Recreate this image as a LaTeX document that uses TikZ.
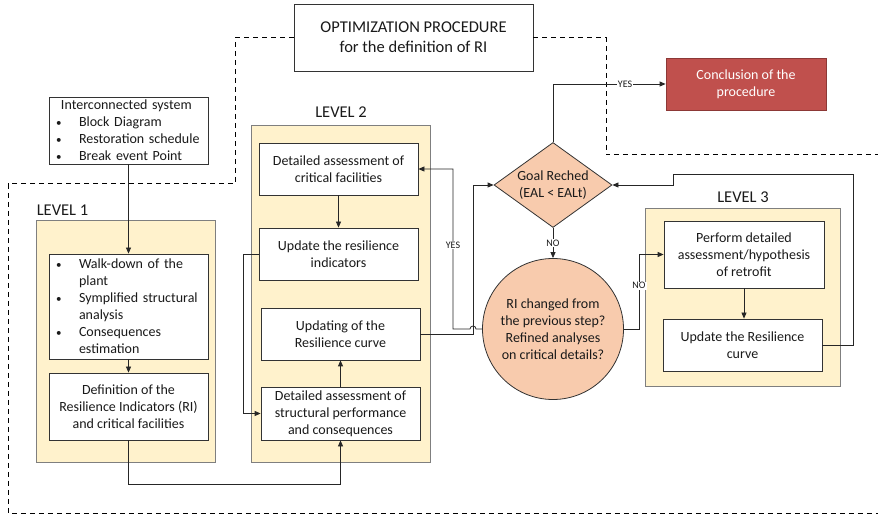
\documentclass[tikz,border=0pt]{standalone}
\usepackage{fontspec}
\setmainfont{Carlito}
\usetikzlibrary{arrows.meta,shapes.geometric,calc}
\definecolor{lvlfill}{HTML}{FFF2CC}
\definecolor{lvlline}{HTML}{7F7F7F}
\definecolor{peach}{HTML}{F8CBAD}
\definecolor{redbox}{HTML}{C0504D}
\definecolor{redline}{HTML}{8C3836}
\definecolor{txt}{HTML}{1A1A1A}
\newcommand\blt{\hspace*{4pt}\makebox[23pt][l]{\fontsize{11}{11}\selectfont\textbullet}}
\newcommand\bind{\hspace*{27pt}}
\begin{document}
\begin{tikzpicture}[x=1pt,y=-1pt,
  every node/.style={font=\fontsize{14}{17}\selectfont, text=txt},
  lvl/.style={draw=lvlline, fill=lvlfill, line width=1pt, inner sep=0},
  box/.style={draw=black!80, fill=white, line width=0.8pt, align=center, inner sep=0, minimum width=159pt, minimum height=52pt},
  lst/.style={box, align=left, text width=153pt, inner xsep=3pt, execute at begin node={\hyphenpenalty=10000 }},
  ttl/.style={font=\fontsize{16.5}{20}\selectfont},
  arr/.style={draw=black!85, line width=0.8pt, -{Triangle[length=6pt,width=5pt]}},
  lbl/.style={font=\fontsize{10}{11}\selectfont, fill=white, inner sep=1pt},
  dsh/.style={draw=black, line width=1pt, dash pattern=on 5pt off 4pt}]
\useasboundingbox (0,0) rectangle (878,518);

% level panels
\node[lvl, minimum width=179pt, minimum height=241pt] (lv1) at (125.5,341.5) {};
\node[lvl, minimum width=179pt, minimum height=336pt] (lv2) at (340.5,294) {};
\node[lvl, minimum width=195pt, minimum height=178pt] (lv3) at (742.5,298) {};
\node[ttl] (t1) at (62.5,210) {LEVEL 1};
\node[ttl] (t2) at (341,112) {LEVEL 2};
\node[ttl] (t3) at (743,197) {LEVEL 3};

% title
\node[box, ttl, minimum width=239pt, minimum height=67pt] (opt) at (413.5,37.5) {OPTIMIZATION PROCEDURE\\for the definition of RI};

% level 1
\node[lst, minimum height=67pt] (inter) at (128.5,130.5)
  {\hspace*{9pt}Interconnected system\\ \blt Block Diagram\\ \blt Restoration schedule\\ \blt Break event Point};
\node[lst, minimum height=105pt] (walk) at (128.5,306.5)
  {\blt Walk-down of the\\ \bind plant\\ \blt Symplified structural\\ \bind analysis\\ \blt Consequences\\ \bind estimation};
\node[box, minimum height=67pt] (def) at (128.5,406.5) {Definition of the\\Resilience Indicators (RI)\\and critical facilities};

% level 2
\node[box] (crit) at (338.5,169) {Detailed assessment of\\critical facilities};
\node[box] (upd) at (338.5,254) {Update the resilience\\indicators};
\node[box] (curve) at (340.5,334) {Updating of the\\Resilience curve};
\node[box, minimum height=53pt] (struct) at (340.5,413.5) {Detailed assessment of\\structural performance\\and consequences};

% decisions
\node[diamond, draw=black!80, fill=peach, line width=0.8pt, minimum width=118pt, minimum height=85pt, inner sep=0,
  label={[align=center]center:{Goal Reched\\(EAL < EALt)}}] (goal) at (553,185) {};
\node[circle, draw=black!80, fill=peach, line width=0.8pt, minimum size=141pt, inner sep=0, align=center] (circ) at (553,329)
  {RI changed from\\the previous step?\\Refined analyses\\on critical details?};
\node[box, fill=redbox, draw=redline, text=white, minimum width=160pt] (concl) at (746,84) {Conclusion of the\\procedure};

% level 3
\node[box, minimum width=160pt, minimum height=67pt] (perf) at (744,254.5) {Perform detailed\\assessment/hypothesis\\of retrofit};
\node[box] (upd3) at (742.5,345) {Update the Resilience\\curve};

% dashed boundary
\draw[dsh] (opt.west) -| (235,184) -| (8,513) -- (878,513);
\draw[dsh] (opt.east) -| (606,155) -- (878,155);

% connectors
\draw[arr] (inter.south) -- (walk.north);
\draw[arr] (walk.south) -- (def.north);
\draw[arr] (def.south) -- ++(0,44) -| (struct.south);
\draw[arr] (crit.south) -- (upd.north);
\draw[arr] (upd.west) -- ++(-15,0) |- (struct.west);
\draw[arr] (struct.north) -- (curve.south);
\draw[arr] (curve.east) -- (473,334) |- (goal.west);
\draw[arr] (circ.west) -- (476,329) arc[start angle=0, end angle=-180, radius=3] -- (453,329) |- (crit.east);
\node[lbl] (yes1) at (453,245) {YES};
\draw[arr] (goal.north) |- node[lbl, pos=0.82] (yes2) {YES} (concl.west);
\draw[arr] (goal.south) -- node[lbl] (no1) {NO} (circ.north);
\draw[arr] (circ.east) -- (639,329) |- node[lbl, pos=0.29] (no2) {NO} (perf.west);
\draw[arr] (perf.south) -- (perf.south |- upd3.north);
\draw[arr] (upd3.east) -| (853,174) -| (673,185) -- (goal.east);
\end{tikzpicture}
\end{document}
